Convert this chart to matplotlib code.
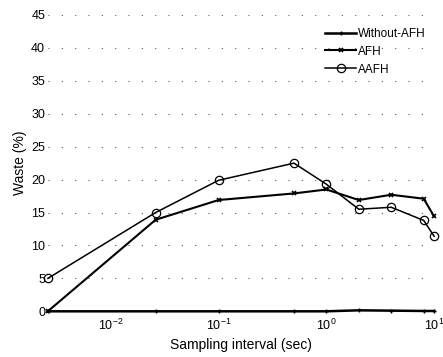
import numpy as np
import matplotlib.pyplot as plt

# valores
intervalo = [0.0026, 0.026, 0.1, 0.5, 1.0, 2.0, 4.0, 8.0, 10.0]
sin_afh = [0.0, 0.0, 0.0, 0.0, 0.0, 0.15, 0.1, 0.05, 0.05]
afh = [0.0, 13.9, 16.9, 17.9, 18.5, 16.9, 17.7, 17.1, 14.4]
aafh = [5.0, 15.0, 19.9, 22.5, 19.3, 15.5, 15.8, 13.8, 11.4]
y_ticks = [0, 5, 10, 15, 20, 25, 30, 35, 40, 45]

plt.rcParams['font.family'] = ['Liberation Sans', 'DejaVu Sans']

fig = plt.figure(figsize=(4.43, 3.57), dpi=100)
ax = fig.add_axes([0.108, 0.128, 0.872, 0.830])

ax.plot(intervalo, sin_afh, color="k", lw=1.8, marker="+", ms=3, mew=1, label="Without-AFH", clip_on=False)
ax.plot(intervalo, afh, color="k", lw=1.5, marker="x", ms=3.5, mew=1.2, label="AFH", clip_on=False)
ax.plot(intervalo, aafh, color="k", lw=1.1, marker="o", ms=6, mfc="none", mew=0.9, label="AAFH", clip_on=False)

ax.set_xscale("log")
ax.set_xlim(0.0026, 10)
ax.set_ylim(0, 45)
ax.set_yticks(y_ticks)
ax.set_xticks([0.01, 0.1, 1, 10])
ax.minorticks_off()
ax.tick_params(length=0, labelsize=9, pad=2)
ax.tick_params(axis="x", pad=5)
for s in ax.spines.values():
    s.set_visible(False)
ax.grid(axis="y", color="0.35", lw=0.8, linestyle=(0, (1, 11)))

ax.set_xlabel("Sampling interval (sec)", size=10, labelpad=3)
ax.set_ylabel("Waste (%)", size=10, labelpad=3)

ax.legend(loc="upper right", bbox_to_anchor=(1.0, 0.985), frameon=False, fontsize=8.5,
          handlelength=2.6, handletextpad=0.2, labelspacing=0.5, borderaxespad=0.3)

fig.savefig("out.png", dpi=100)
